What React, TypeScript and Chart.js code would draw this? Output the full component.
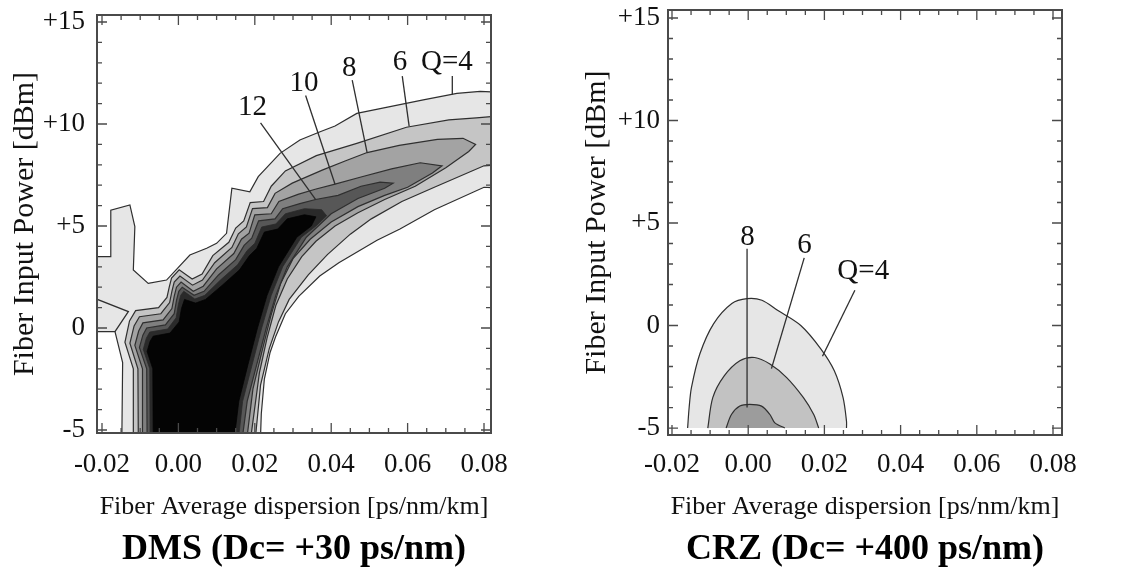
import { useEffect, useRef } from "react";
import { Chart, registerables } from "chart.js";

Chart.register(...registerables);

type XY = [number, number];

// ---------- shared axis definitions ----------
const X_TICKS = [-0.02, 0.0, 0.02, 0.04, 0.06, 0.08];
const Y_TICKS = [-5, 0, 5, 10, 15];
const X_MINOR_DIV = 4; // minor ticks every 0.005
const Y_MINOR_DIV = 5; // minor ticks every 1 dB

const X_TITLE = "Fiber Average dispersion [ps/nm/km]";
const Y_TITLE = "Fiber Input Power [dBm]";

// ---------- DMS panel (Dc = +30 ps/nm): Q-factor contours ----------
const DMS_Q4: XY[] = [
  [-0.0148, -5.3], [-0.0146, -1.7], [-0.0166, -0.18], [-0.0235, -0.18], [-0.0235, 3.5],
  [-0.0177, 3.5], [-0.0177, 5.78], [-0.0127, 6.03], [-0.0114, 4.97], [-0.0118, 2.84],
  [-0.0079, 2.19], [-0.0031, 2.35], [0.003, 3.58], [0.0074, 3.91], [0.01, 4.15],
  [0.0126, 4.64], [0.014, 6.85], [0.0187, 6.68], [0.0209, 7.42], [0.0266, 8.56],
  [0.0318, 9.22], [0.0371, 9.62], [0.041, 9.9], [0.0467, 10.52], [0.0554, 10.85],
  [0.0641, 11.18], [0.0729, 11.5], [0.079, 11.6], [0.084, 11.55], [0.084, 6.85],
  [0.08, 6.9], [0.067, 5.8], [0.058, 4.85], [0.052, 4.3], [0.047, 3.75],
  [0.042, 3.2], [0.037, 2.55], [0.0315, 1.55], [0.028, 0.7], [0.0255, -0.4],
  [0.024, -1.2], [0.0225, -2.5], [0.0217, -4.2], [0.0215, -5.3],
];
const DMS_Q4_NOTCH: XY[] = [[-0.0235, 1.57], [-0.0131, 0.8], [-0.0166, -0.18]];

const DMS_Q6: XY[] = [
  [-0.0118, -5.3], [-0.0118, -2.0], [-0.014, -0.7], [-0.0128, 0.35], [-0.0112, 0.85],
  [-0.0052, 1.0], [-0.003, 1.5], [-0.0024, 2.0], [-0.0018, 2.45], [0.0002, 2.85],
  [0.0036, 2.4], [0.0062, 2.65], [0.009, 3.55], [0.0132, 4.2], [0.015, 4.9],
  [0.0171, 5.25], [0.0188, 6.15], [0.0223, 6.2], [0.0243, 6.95], [0.028, 7.7],
  [0.0361, 8.45], [0.0467, 9.05], [0.0597, 9.84], [0.0708, 10.2], [0.078, 10.3],
  [0.084, 10.4], [0.084, 8.0], [0.08, 7.95], [0.067, 6.9], [0.0585, 6.2],
  [0.0505, 5.35], [0.045, 4.6], [0.039, 3.6], [0.034, 2.6], [0.029, 1.4],
  [0.0262, 0.3], [0.0238, -1.0], [0.0215, -2.8], [0.0202, -5.3],
];

const DMS_Q8: XY[] = [
  [-0.0105, -5.3], [-0.0106, -2.0], [-0.0127, -0.75], [-0.0116, 0.1], [-0.0102, 0.55],
  [-0.0046, 0.7], [-0.0023, 1.25], [-0.0017, 1.8], [-0.0011, 2.25], [0.0004, 2.55],
  [0.0037, 2.1], [0.0063, 2.35], [0.0095, 3.2], [0.014, 3.95], [0.0157, 4.62],
  [0.0178, 4.95], [0.0194, 5.85], [0.0233, 5.9], [0.0253, 6.6], [0.0298, 7.1],
  [0.0378, 7.75], [0.0438, 8.2], [0.0494, 8.6], [0.0578, 8.95], [0.0678, 9.25],
  [0.0745, 9.3], [0.0778, 9.0], [0.076, 8.65], [0.07, 7.85], [0.062, 6.95],
  [0.054, 6.3], [0.047, 5.65], [0.041, 5.0], [0.036, 4.25], [0.0323, 3.5],
  [0.0285, 2.4], [0.0255, 1.1], [0.0232, -0.5], [0.0212, -2.2], [0.019, -5.3],
];

const DMS_Q10: XY[] = [
  [-0.0093, -5.3], [-0.0094, -2.0], [-0.0114, -0.85], [-0.0104, -0.15], [-0.0093, 0.25],
  [-0.004, 0.4], [-0.0017, 0.95], [-0.0011, 1.55], [-0.0005, 2.0], [0.0007, 2.25],
  [0.0039, 1.8], [0.0065, 2.05], [0.01, 2.9], [0.0145, 3.65], [0.0165, 4.35],
  [0.0185, 4.65], [0.02, 5.55], [0.0243, 5.6], [0.0263, 6.2], [0.0313, 6.55],
  [0.0358, 6.8], [0.041, 7.05], [0.0478, 7.4], [0.0558, 7.8], [0.0633, 8.1],
  [0.069, 7.95], [0.0665, 7.6], [0.06, 6.9], [0.054, 6.5], [0.047, 5.95],
  [0.04, 5.2], [0.0345, 4.35], [0.03, 3.4], [0.0268, 2.2], [0.0242, 0.6],
  [0.0218, -1.2], [0.0195, -3.0], [0.018, -5.3],
];

const DMS_Q12: XY[] = [
  [-0.0082, -5.3], [-0.0083, -2.0], [-0.0102, -0.95], [-0.0093, -0.35], [-0.0083, 0.0],
  [-0.0034, 0.15], [-0.0011, 0.7], [-0.0005, 1.35], [0.0001, 1.8], [0.001, 2.0],
  [0.0041, 1.6], [0.0067, 1.8], [0.0105, 2.6], [0.015, 3.35], [0.0172, 4.05],
  [0.0192, 4.4], [0.021, 5.25], [0.0253, 5.35], [0.0273, 5.85], [0.0318, 6.1],
  [0.0359, 6.3], [0.0418, 6.5], [0.0478, 6.95], [0.0528, 7.15], [0.0562, 7.1],
  [0.054, 6.85], [0.047, 6.35], [0.04, 5.6], [0.0335, 4.45], [0.0285, 3.0],
  [0.0255, 1.6], [0.023, 0.0], [0.0205, -1.8], [0.018, -3.6], [0.0168, -5.3],
];

const DMS_Q14: XY[] = [
  [-0.0074, -5.3], [-0.0075, -2.0], [-0.0092, -1.05], [-0.0084, -0.5], [-0.0075, -0.2],
  [-0.0028, -0.05], [-0.0006, 0.5], [0.0, 1.15], [0.0006, 1.6], [0.0014, 1.8],
  [0.0043, 1.42], [0.0069, 1.6], [0.011, 2.35], [0.0155, 3.1], [0.018, 3.8],
  [0.02, 4.15], [0.0218, 4.95], [0.0255, 5.1], [0.028, 5.6], [0.033, 5.85],
  [0.0375, 5.8], [0.0388, 5.5], [0.036, 5.0], [0.0322, 4.45], [0.0273, 3.0],
  [0.0243, 1.6], [0.0218, 0.0], [0.0193, -1.8], [0.0168, -3.6], [0.0158, -5.3],
];

const DMS_Q16: XY[] = [
  [-0.0066, -5.3], [-0.0067, -2.0], [-0.0082, -1.15], [-0.0074, -0.65], [-0.0066, -0.4],
  [-0.0022, -0.25], [0.0002, 0.3], [0.0008, 0.95], [0.0016, 1.4], [0.0045, 1.22],
  [0.0071, 1.4], [0.0115, 2.1], [0.016, 2.85], [0.0186, 3.55], [0.0205, 3.9],
  [0.0225, 4.7], [0.026, 4.85], [0.0285, 5.35], [0.033, 5.55], [0.036, 5.45],
  [0.0348, 5.0], [0.031, 4.45], [0.0262, 3.0], [0.0232, 1.6], [0.0207, 0.0],
  [0.0182, -1.8], [0.0158, -3.6], [0.0147, -5.3],
];

const DMS_LABELS = ["12", "10", "8", "6", "Q=4"];
const DMS_LABEL_POS: XY[] = [[0.0194, 10.8], [0.0329, 12.0], [0.0447, 12.75], [0.058, 13.0], [0.0703, 13.0]];
const DMS_LEADERS: XY[][] = [
  [[0.0215, 10.05], [0.0359, 6.3]],
  [[0.0333, 11.4], [0.041, 7.05]],
  [[0.0455, 12.15], [0.0494, 8.6]],
  [[0.0586, 12.35], [0.0604, 9.9]],
  [[0.0717, 12.35], [0.0717, 11.45]],
];

// ---------- CRZ panel (Dc = +400 ps/nm): Q-factor contours ----------
const CRZ_Q4: XY[] = [
  [-0.0159, -5.0], [-0.0155, -4.0], [-0.0149, -3.03], [-0.0127, -1.39], [-0.0091, 0.08],
  [-0.0043, 1.07], [-0.0003, 1.31], [0.0036, 1.23], [0.0077, 0.74], [0.0138, 0.0],
  [0.0191, -1.15], [0.0226, -2.21], [0.0249, -3.52], [0.0258, -4.67], [0.0258, -5.0],
];
const CRZ_Q6: XY[] = [
  [-0.0106, -5.0], [-0.0093, -3.52], [-0.0063, -2.46], [-0.0022, -1.72], [0.0017, -1.56],
  [0.0057, -1.88], [0.0101, -2.54], [0.0145, -3.52], [0.0172, -4.34], [0.0185, -5.0],
];
const CRZ_Q8: XY[] = [
  [-0.0058, -5.0], [-0.0044, -4.34], [-0.0022, -3.93], [0.0004, -3.85], [0.0035, -3.93],
  [0.0057, -4.34], [0.007, -4.75], [0.0096, -5.0],
];

const CRZ_LABELS = ["8", "6", "Q=4"];
const CRZ_LABEL_POS: XY[] = [[-0.0002, 4.3], [0.0148, 3.9], [0.0302, 2.65]];
const CRZ_LEADERS: XY[][] = [
  [[-0.0003, 3.75], [-0.0003, -4.0]],
  [[0.0147, 3.3], [0.0061, -2.1]],
  [[0.028, 1.72], [0.0195, -1.5]],
];

// ---------- styling ----------
const FONT_FAMILY = '"Liberation Serif", "Times New Roman", Times, serif';
const INK = "#111111";
const FRAME = "#4a4a4a";
const EDGE = "#2f2f2f";
const CANVAS_H = 577;
const TICK_FONT = 27;
const X_TITLE_FONT = 26;
const Y_TITLE_FONT = 30;
const LABEL_FONT = 29;
const CAPTION_FONT = 36;

interface Layer {
  data: XY[];
  fill: string;
  edge: boolean;
}

interface Panel {
  left: number;
  width: number;
  area: { left: number; right: number; top: number; bottom: number };
  xRange: [number, number];
  yRange: [number, number];
  yTitleCenter: number;
  yTickGap: number;
  xTickGap: number;
  xTitleCenter: number;
  captionY: number;
  caption: string;
  tension: number;
  layers: Layer[];
  extraLines: XY[][];
  leaders: XY[][];
  labels: string[];
  labelPos: XY[];
}

const subdivide = (major: number[], n: number): number[] => {
  const out: number[] = [];
  for (let i = 0; i < major.length - 1; i++) {
    const step = (major[i + 1] - major[i]) / n;
    for (let k = 1; k < n; k++) out.push(major[i] + step * k);
  }
  return out;
};

const X_MINOR = subdivide(X_TICKS, X_MINOR_DIV);
const Y_MINOR = subdivide(Y_TICKS, Y_MINOR_DIV);

const PANELS: Panel[] = [
  {
    left: 0,
    width: 560,
    area: { left: 97, right: 491, top: 15, bottom: 433 },
    xRange: [-0.02131, 0.08183],
    yRange: [-5.147, 15.343],
    yTitleCenter: 25,
    yTickGap: 12,
    xTickGap: 16,
    xTitleCenter: 507,
    captionY: 550,
    caption: "DMS (Dc= +30 ps/nm)",
    tension: 0,
    layers: [
      { data: DMS_Q4, fill: "#e6e6e6", edge: true },
      { data: DMS_Q6, fill: "#c5c5c5", edge: true },
      { data: DMS_Q8, fill: "#a3a3a3", edge: true },
      { data: DMS_Q10, fill: "#7f7f7f", edge: true },
      { data: DMS_Q12, fill: "#575757", edge: true },
      { data: DMS_Q14, fill: "#2a2a2a", edge: false },
      { data: DMS_Q16, fill: "#040404", edge: false },
    ],
    extraLines: [DMS_Q4_NOTCH],
    leaders: DMS_LEADERS,
    labels: DMS_LABELS,
    labelPos: DMS_LABEL_POS,
  },
  {
    left: 560,
    width: 563,
    area: { left: 108, right: 502, top: 10, bottom: 435 },
    xRange: [-0.02105, 0.08236],
    yRange: [-5.34, 15.39],
    yTitleCenter: 37,
    yTickGap: 8,
    xTickGap: 14,
    xTitleCenter: 507,
    captionY: 550,
    caption: "CRZ (Dc= +400 ps/nm)",
    tension: 0.3,
    layers: [
      { data: CRZ_Q4, fill: "#e6e6e6", edge: true },
      { data: CRZ_Q6, fill: "#c2c2c2", edge: true },
      { data: CRZ_Q8, fill: "#9c9c9c", edge: true },
    ],
    extraLines: [],
    leaders: CRZ_LEADERS,
    labels: CRZ_LABELS,
    labelPos: CRZ_LABEL_POS,
  },
];

function ContourPanel({ panel }: { panel: Panel }) {
  const ref = useRef<HTMLCanvasElement | null>(null);

  useEffect(() => {
    const canvas = ref.current;
    if (!canvas) return;
    const { area } = panel;
    const xAxisHeight = 90;
    const xTitleLine = X_TITLE_FONT * 1.2;
    const yTitleLine = Y_TITLE_FONT * 1.2;

    const datasets: any[] = [];
    panel.layers.forEach((layer, i) => {
      datasets.push({
        data: layer.data,
        showLine: true,
        fill: "shape",
        backgroundColor: layer.fill,
        borderColor: layer.edge ? EDGE : layer.fill,
        borderWidth: layer.edge ? 1.2 : 0.8,
        tension: panel.tension,
        pointRadius: 0,
        order: 100 - i,
      });
    });
    [...panel.extraLines, ...panel.leaders].forEach((line) => {
      datasets.push({
        data: line,
        showLine: true,
        fill: false,
        borderColor: EDGE,
        borderWidth: 1.3,
        tension: 0,
        pointRadius: 0,
        order: 1,
      });
    });

    const frameTicks = {
      id: "frameTicks",
      afterDatasetsDraw(chart: any) {
        const { ctx, chartArea: a } = chart;
        const sx = chart.scales.x;
        const sy = chart.scales.y;
        ctx.save();
        ctx.strokeStyle = FRAME;
        ctx.lineWidth = 1.3;
        ctx.beginPath();
        const xTick = (v: number, len: number) => {
          const p = sx.getPixelForValue(v);
          if (p < a.left + 1 || p > a.right - 1) return;
          ctx.moveTo(p, a.bottom);
          ctx.lineTo(p, a.bottom - len);
          ctx.moveTo(p, a.top);
          ctx.lineTo(p, a.top + len);
        };
        const yTick = (v: number, len: number) => {
          const p = sy.getPixelForValue(v);
          if (p < a.top + 1 || p > a.bottom - 1) return;
          ctx.moveTo(a.left, p);
          ctx.lineTo(a.left + len, p);
          ctx.moveTo(a.right, p);
          ctx.lineTo(a.right - len, p);
        };
        X_TICKS.forEach((v) => xTick(v, 10));
        X_MINOR.forEach((v) => xTick(v, 5));
        Y_TICKS.forEach((v) => yTick(v, 10));
        Y_MINOR.forEach((v) => yTick(v, 5));
        ctx.stroke();
        ctx.lineWidth = 2;
        ctx.strokeRect(a.left, a.top, a.right - a.left, a.bottom - a.top);
        ctx.restore();
      },
    };

    const contourLabels = {
      id: "contourLabels",
      afterDatasetsDraw(chart: any) {
        const { ctx } = chart;
        const sx = chart.scales.x;
        const sy = chart.scales.y;
        ctx.save();
        ctx.font = `${LABEL_FONT}px ${FONT_FAMILY}`;
        ctx.fillStyle = INK;
        ctx.textAlign = "center";
        ctx.textBaseline = "middle";
        panel.labels.forEach((t, i) => {
          const [x, y] = panel.labelPos[i];
          ctx.fillText(t, sx.getPixelForValue(x), sy.getPixelForValue(y));
        });
        ctx.restore();
      },
    };

    const caption = {
      id: "caption",
      afterDraw(chart: any) {
        const { ctx, chartArea: a } = chart;
        ctx.save();
        ctx.font = `bold ${CAPTION_FONT}px ${FONT_FAMILY}`;
        ctx.fillStyle = "#000";
        ctx.textAlign = "center";
        ctx.textBaseline = "middle";
        ctx.fillText(panel.caption, (a.left + a.right) / 2, panel.captionY);
        ctx.restore();
      },
    };

    const chart = new Chart(canvas, {
      type: "scatter",
      data: { datasets },
      options: {
        animation: false,
        responsive: false,
        devicePixelRatio: 1,
        events: [],
        layout: {
          padding: {
            left: 0,
            top: area.top,
            right: panel.width - area.right,
            bottom: CANVAS_H - area.bottom - xAxisHeight,
          },
        },
        plugins: {
          legend: { display: false },
          tooltip: { enabled: false },
          title: { display: false },
        },
        elements: { point: { radius: 0 } },
        scales: {
          x: {
            type: "linear",
            min: panel.xRange[0],
            max: panel.xRange[1],
            afterBuildTicks: (s: any) => {
              s.ticks = X_TICKS.map((value) => ({ value }));
            },
            afterFit: (s: any) => {
              s.height = xAxisHeight;
              s.paddingLeft = 0;
              s.paddingRight = 0;
            },
            grid: { display: false, drawTicks: false },
            border: { display: false },
            ticks: {
              autoSkip: false,
              maxRotation: 0,
              padding: panel.xTickGap,
              color: INK,
              font: { family: FONT_FAMILY, size: TICK_FONT },
              callback: (v: any) => Number(v).toFixed(2),
            },
            title: {
              display: true,
              text: X_TITLE,
              color: INK,
              font: { family: FONT_FAMILY, size: X_TITLE_FONT },
              padding: {
                top: 0,
                bottom: area.bottom + xAxisHeight - panel.xTitleCenter - xTitleLine / 2,
              },
            },
          },
          y: {
            type: "linear",
            min: panel.yRange[0],
            max: panel.yRange[1],
            afterBuildTicks: (s: any) => {
              s.ticks = Y_TICKS.map((value) => ({ value }));
            },
            afterFit: (s: any) => {
              s.width = area.left;
              s.paddingTop = 0;
              s.paddingBottom = 0;
            },
            grid: { display: false, drawTicks: false },
            border: { display: false },
            ticks: {
              autoSkip: false,
              padding: panel.yTickGap,
              color: INK,
              font: { family: FONT_FAMILY, size: TICK_FONT },
              callback: (v: any) => (Number(v) > 0 ? `+${v}` : `${v}`),
            },
            title: {
              display: true,
              text: Y_TITLE,
              color: INK,
              font: { family: FONT_FAMILY, size: Y_TITLE_FONT },
              padding: { top: panel.yTitleCenter - yTitleLine / 2, bottom: 0 },
            },
          },
        },
      },
      plugins: [frameTicks, contourLabels, caption],
    } as any);

    return () => chart.destroy();
  }, [panel]);

  return (
    <canvas
      ref={ref}
      width={panel.width}
      height={CANVAS_H}
      style={{ position: "absolute", left: panel.left, top: 0, width: panel.width, height: CANVAS_H }}
    />
  );
}

export default function App() {
  return (
    <div
      style={{
        position: "absolute",
        left: 0,
        top: 0,
        width: 1123,
        height: CANVAS_H,
        background: "#ffffff",
        overflow: "hidden",
      }}
    >
      {PANELS.map((p) => (
        <ContourPanel key={p.caption} panel={p} />
      ))}
    </div>
  );
}
